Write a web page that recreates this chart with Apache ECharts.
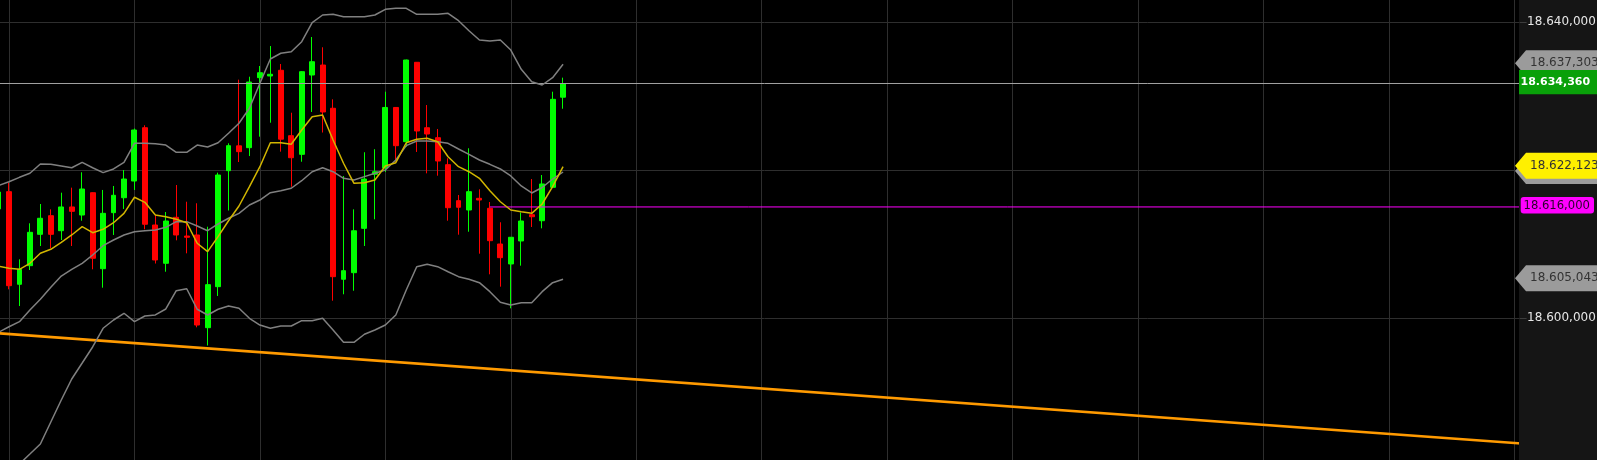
<!DOCTYPE html>
<html><head><meta charset="utf-8">
<script src="https://cdn.jsdelivr.net/npm/echarts@6/dist/echarts.min.js"></script>
<style>html,body{margin:0;padding:0;background:#000;overflow:hidden}#c{width:1597px;height:460px}</style>
</head><body><div id="c"></div>
<script>
// ---------- data ----------
// candle index k starts at -1 (partially visible bar at the left edge); 147 slots on the axis
const firstIndex = -1;
const slotCount = 147;
const categories = Array.from({length: slotCount}, (_, i) => String(i + firstIndex));

// [open, close, low, high]
const candles = [
 [18614.75,18617.04,18614.34,18617.31],[18617.09,18604.37,18603.88,18618.30],[18604.56,18606.59,18601.62,18607.94],
 [18607.08,18611.59,18606.49,18612.81],[18611.32,18613.49,18609.74,18615.42],[18613.84,18611.32,18609.43,18614.70],
 [18611.81,18615.02,18610.55,18616.95],[18615.02,18614.43,18609.74,18617.63],[18613.93,18617.45,18613.16,18619.71],
 [18616.95,18608.08,18606.59,18617.00],[18606.67,18614.16,18604.10,18617.32],[18614.25,18616.60,18611.23,18617.86],
 [18616.27,18618.80,18614.75,18620.02],[18618.53,18625.43,18617.32,18625.63],[18625.74,18612.68,18612.00,18626.07],
 [18612.58,18607.85,18607.37,18613.93],[18607.40,18613.12,18606.26,18614.34],[18613.62,18611.23,18610.51,18617.99],
 [18611.09,18610.92,18608.75,18615.73],[18611.23,18599.05,18598.74,18615.52],[18598.69,18604.51,18596.28,18612.35],
 [18604.24,18619.34,18602.98,18619.66],[18619.93,18623.31,18614.54,18623.63],[18623.29,18622.50,18621.10,18632.24],
 [18623.04,18631.92,18621.91,18632.64],[18632.51,18633.18,18624.53,18634.09],[18632.74,18632.97,18626.42,18636.79],
 [18633.51,18624.19,18622.50,18634.36],[18624.66,18621.68,18617.76,18627.77],[18622.14,18633.32,18621.14,18633.41],
 [18632.87,18634.67,18627.87,18638.01],[18634.22,18627.87,18625.09,18636.62],[18628.37,18605.59,18602.34,18629.58],
 [18605.24,18606.40,18603.21,18619.21],[18606.13,18611.80,18603.69,18614.70],[18612.13,18618.80,18609.74,18622.42],
 [18619.44,18619.79,18613.35,18622.83],[18620.29,18628.48,18619.75,18630.61],[18628.48,18623.31,18621.14,18628.50],
 [18623.85,18634.90,18623.17,18634.95],[18634.59,18625.30,18622.46,18634.62],[18625.74,18624.89,18619.57,18628.81],
 [18624.39,18621.24,18619.25,18625.57],[18620.74,18614.92,18613.16,18621.60],[18615.87,18614.98,18611.27,18616.64],
 [18614.61,18617.09,18611.67,18622.96],[18616.19,18615.96,18608.70,18617.41],[18614.84,18610.46,18605.91,18615.69],
 [18610.01,18608.16,18604.24,18612.95],[18607.31,18610.92,18601.31,18610.95],[18610.42,18613.12,18607.08,18614.27],
 [18613.97,18613.70,18612.31,18618.80],[18613.16,18618.13,18612.13,18619.34],[18617.68,18629.58,18617.60,18630.61],
 [18629.87,18631.72,18628.31,18632.51]
];

const upperBand = [18617.92,18618.44,18619.03,18619.58,18620.83,18620.79,18620.56,18620.33,18621.06,18620.33,18619.66,18620.16,18621.06,18623.63,18623.63,18623.58,18623.40,18622.42,18622.42,18623.40,18623.13,18623.71,18624.99,18626.34,18628.37,18631.75,18635.04,18635.81,18636.02,18637.38,18639.95,18640.99,18641.08,18640.76,18640.76,18640.76,18640.99,18641.76,18641.89,18641.89,18641.08,18641.08,18641.08,18641.22,18640.22,18638.86,18637.61,18637.47,18637.61,18636.25,18633.64,18631.97,18631.52,18632.51,18634.32];
const middleBand = [18598.07,18598.82,18599.50,18601.08,18602.53,18604.15,18605.68,18606.59,18607.40,18608.52,18609.78,18610.55,18611.23,18611.67,18611.81,18611.90,18612.27,18613.03,18613.03,18612.45,18611.81,18612.72,18613.49,18614.16,18615.29,18615.96,18616.95,18617.22,18617.55,18618.57,18619.79,18620.33,18619.79,18618.90,18618.67,18619.12,18619.57,18620.02,18621.37,18623.31,18623.94,18623.94,18623.85,18623.63,18622.86,18622.14,18621.37,18620.79,18620.16,18619.21,18617.86,18616.91,18617.65,18618.80,18619.75];
const lowerBand = [18577.55,18578.90,18580.25,18581.60,18582.96,18585.93,18588.91,18591.75,18593.91,18596.08,18598.61,18599.73,18600.64,18599.50,18600.27,18600.41,18601.22,18603.69,18603.96,18601.18,18600.41,18601.18,18601.62,18601.31,18599.96,18599.05,18598.61,18598.92,18598.92,18599.64,18599.64,18599.96,18598.38,18596.71,18596.71,18597.80,18598.38,18599.05,18600.41,18603.79,18606.94,18607.27,18606.94,18606.26,18605.59,18605.24,18604.78,18603.56,18602.13,18601.76,18602.07,18602.07,18603.56,18604.78,18605.24];
const movingAvg = [18606.99,18606.72,18606.59,18607.40,18608.75,18609.29,18610.24,18611.23,18612.35,18611.54,18612.00,18612.89,18614.16,18616.33,18615.65,18613.93,18613.70,18613.35,18612.89,18610.11,18608.97,18611.00,18613.16,18615.15,18617.76,18620.47,18623.71,18623.71,18623.50,18625.43,18627.23,18627.46,18624.08,18620.93,18618.22,18618.30,18618.67,18620.56,18621.01,18623.71,18624.17,18624.31,18623.85,18621.82,18620.47,18619.79,18618.90,18617.22,18615.73,18614.61,18614.38,18614.16,18615.42,18617.76,18620.47];

const trendStart = 18597.94;   // orange trend line value at the first slot
const trendEnd = 18582.98;     // ... and at the last slot
const lastPrice = 18631.75;    // grey current-price line
const levelPrice = 18615.02;   // magenta level
const levelFromK = 46;         // magenta level starts at this bar
const gridEvery = 12;          // vertical grid every 12 bars
const yTicks = [18600, 18620, 18640];
const tagTexts = { upper: '18.637,303', price: '18.634,360', ma: '18.622,123', level: '18.616,000', lower: '18.605,043' };

// ---------- layout ----------
const STEP = 10.454, GRID_LEFT = -6.68, PLOT_RIGHT = 1519.6;
const GRID_W = slotCount * STEP;
const Y_MIN = 18580, Y_MAX = 18645;

function fmt(v) {
  const s = Number(v).toFixed(3).split('.');
  return s[0].replace(/\B(?=(\d{3})+(?!\d))/g, '.') + ',' + s[1];
}
const cat = k => String(k);
const nulls = () => new Array(slotCount).fill(null);
const trendData = nulls(); trendData[0] = trendStart; trendData[slotCount - 1] = trendEnd;
const levelData = nulls(); levelData[levelFromK - firstIndex] = levelPrice; levelData[slotCount - 1] = levelPrice;

const gridMarks = [];
for (let k = 0; k <= slotCount + firstIndex - 1; k += gridEvery) gridMarks.push({ xAxis: cat(k) });
yTicks.forEach(v => gridMarks.push({ yAxis: v }));

const chart = echarts.init(document.getElementById('c'), null, { renderer: 'canvas' });
const lineBase = { type: 'line', symbol: 'none', showSymbol: false, silent: true, animation: false };

chart.setOption({
  backgroundColor: '#000',
  animation: false,
  grid: { left: GRID_LEFT, top: -14.66, width: GRID_W, height: 480.51, outerBoundsMode: 'none', containLabel: false },
  xAxis: { type: 'category', data: categories, show: false, boundaryGap: true },
  yAxis: {
    type: 'value', position: 'right', min: Y_MIN, max: Y_MAX, interval: 20,
    offset: PLOT_RIGHT - (GRID_LEFT + GRID_W), z: 60,
    splitLine: { show: false }, axisLine: { show: false },
    axisTick: { show: true, length: 7, lineStyle: { color: '#3c3c3c' } },
    axisLabel: { margin: 7.5, color: '#e6e6e6', fontFamily: 'DejaVu Sans', fontSize: 12,
      showMaxLabel: false, showMinLabel: false, formatter: fmt }
  },
  series: [
    Object.assign({}, lineBase, {
      name: 'trend', data: trendData, connectNulls: true, z: 2,
      lineStyle: { color: '#ff9a00', width: 2.6 },
      markLine: { silent: true, z: 1, symbol: ['none', 'none'], label: { show: false }, animation: false,
        lineStyle: { color: '#2e2e2e', width: 1, type: 'solid' }, data: gridMarks }
    }),
    {
      type: 'candlestick', name: 'price', data: candles, barWidth: 5.4, z: 3, silent: true,
      itemStyle: { color: '#00ff00', color0: '#ff0000', borderColor: '#00ff00', borderColor0: '#ff0000', borderWidth: 1 }
    },
    Object.assign({}, lineBase, { name: 'upper', data: upperBand, z: 4, lineStyle: { color: '#808080', width: 1.5 } }),
    Object.assign({}, lineBase, { name: 'middle', data: middleBand, z: 4, lineStyle: { color: '#808080', width: 1.5 } }),
    Object.assign({}, lineBase, { name: 'lower', data: lowerBand, z: 4, lineStyle: { color: '#808080', width: 1.5 } }),
    Object.assign({}, lineBase, { name: 'ma', data: movingAvg, z: 5, lineStyle: { color: '#d2b600', width: 1.5 } }),
    Object.assign({}, lineBase, { name: 'level', data: levelData, connectNulls: true, z: 4, lineStyle: { color: '#ff00ff', width: 1 } }),
    Object.assign({}, lineBase, { name: 'last', data: [], z: 4,
      markLine: { silent: true, z: 4, symbol: ['none', 'none'], label: { show: false }, animation: false,
        lineStyle: { color: '#a0a0a0', width: 1, type: 'solid' }, data: [{ yAxis: lastPrice }] } })
  ]
});

// ---------- right-hand price tags, placed through the y scale ----------
const yPx = v => chart.convertToPixel({ yAxisIndex: 0 }, v);
const FONT = '12px "DejaVu Sans"';
const g = [{ type: 'rect', shape: { x: 1519, y: 0, width: 80, height: 460 }, style: { fill: '#151515' }, z: 50, silent: true }];
function arrowTag(v, fill, text, color, z) {
  const c = yPx(v) - 1;
  g.push({ type: 'polygon', z, silent: true, shape: { points: [[1515, c], [1526, c - 13], [1600, c - 13], [1600, c + 13], [1526, c + 13]] }, style: { fill } });
  if (text) g.push({ type: 'text', z: z + 1, silent: true, x: 1530, y: c, style: { text, fill: color, font: FONT, verticalAlign: 'middle' } });
}
const last = a => a[a.length - 1];
arrowTag(last(upperBand), '#9b9b9b', tagTexts.upper, '#333', 70);
(function () {
  const c = yPx(lastPrice);
  g.push({ type: 'rect', z: 72, silent: true, shape: { x: 1519, y: c - 13.3, width: 80, height: 24.3 }, style: { fill: '#09a009' } });
  g.push({ type: 'text', z: 73, silent: true, x: 1520.5, y: c - 1.4, style: { text: tagTexts.price, fill: '#fff', font: 'bold 11px "DejaVu Sans"', verticalAlign: 'middle' } });
})();
arrowTag(last(middleBand), '#9b9b9b', '', '#333', 74);
arrowTag(last(movingAvg), '#fff000', tagTexts.ma, '#333', 76);
(function () {
  const c = yPx(levelPrice);
  g.push({ type: 'rect', z: 78, silent: true, shape: { x: 1520.7, y: c - 10, width: 73.3, height: 16.5, r: 3 }, style: { fill: '#ff00ff' } });
  g.push({ type: 'text', z: 79, silent: true, x: 1523.5, y: c - 0.8, style: { text: tagTexts.level, fill: '#2a002a', font: '11.6px "DejaVu Sans"', verticalAlign: 'middle' } });
})();
arrowTag(last(lowerBand), '#9b9b9b', tagTexts.lower, '#333', 80);
chart.setOption({ graphic: g });
</script></body></html>
